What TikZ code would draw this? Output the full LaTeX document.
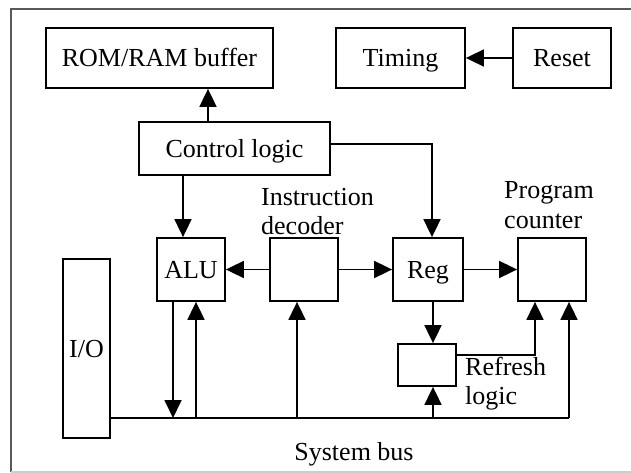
\documentclass[tikz,border=0pt]{standalone}
\usepackage{fontspec}
\setmainfont{Liberation Serif}
\usetikzlibrary{arrows.meta,calc}
\begin{document}
\begin{tikzpicture}[x=1pt,y=-1pt,
  box/.style={draw=black,line width=1.8pt,inner sep=0pt,text height=18pt,text depth=0pt,font=\fontsize{26}{30}\selectfont},
  lbl/.style={inner sep=0pt,font=\fontsize{26}{30}\selectfont},
  arr/.style={line width=1.8pt,-{Triangle[length=18pt,width=17pt]}},
  ln/.style={line width=1.8pt}]
\useasboundingbox (0,0) rectangle (631,473);
% frame
\draw[line width=2pt,color=black!65] (11,472) -- (11,9) -- (640,9);
\draw[line width=1.5pt,color=black!20] (11,472) -- (640,472);
% boxes
\node[box,minimum width=227pt,minimum height=60pt] (rom) at (159.5,58) {ROM/RAM buffer};
\node[box,minimum width=129pt,minimum height=60pt] (tim) at (400.5,58) {Timing};
\node[box,minimum width=98pt,minimum height=60pt] (rst) at (562,58) {Reset};
\node[box,minimum width=191pt,minimum height=53pt] (ctl) at (234.5,148.5) {Control logic};
\node[box,minimum width=68pt,minimum height=63pt] (alu) at (191,269.5) {ALU};
\node[box,minimum width=68pt,minimum height=63pt] (dec) at (304,269.5) {};
\node[box,minimum width=70pt,minimum height=63pt] (reg) at (428,269.5) {Reg};
\node[box,minimum width=68pt,minimum height=63pt] (pc) at (552,269.5) {};
\node[box,minimum width=58pt,minimum height=42pt] (ref) at (427,365) {};
\node[box,minimum width=47pt,minimum height=179pt] (io) at (86.5,348.5) {I/O};
% labels
\node[lbl,anchor=base west] (l1) at (261,205) {Instruction};
\node[lbl,anchor=base west] (l2) at (261,234) {decoder};
\node[lbl,anchor=base west] (l3) at (504,198) {Program};
\node[lbl,anchor=base west] (l4) at (504,228) {counter};
\node[lbl,anchor=base west] (l5) at (465,375) {Refresh};
\node[lbl,anchor=base west] (l6) at (465,404) {logic};
\node[lbl,anchor=base] (l7) at (354,460) {System bus};
% helper coordinates
\coordinate (x208) at (208,0);
\coordinate (x183) at (183,0);
\coordinate (x432) at (432,0);
\coordinate (x173) at (173,0);
\coordinate (x196) at (196,0);
\coordinate (x297) at (297,0);
\coordinate (x433) at (433,0);
\coordinate (x535) at (535,0);
\coordinate (x569) at (569,0);
\coordinate (y144) at (0,144);
\coordinate (y355) at (0,355);
\coordinate (bus) at (0,418);
% connectors
\draw[arr] (rst.west) -- (tim.east);
\draw[arr] (ctl.north -| x208) -- (rom.south -| x208);
\draw[arr] (ctl.south -| x183) -- (alu.north -| x183);
\draw[arr] (ctl.east |- y144) -| (reg.north -| x432);
\draw[arr] (dec.west) -- (alu.east);
\draw[arr] (dec.east) -- (reg.west);
\draw[arr] (reg.east) -- (pc.west);
\draw[arr] (reg.south -| x433) -- (ref.north -| x433);
\draw[arr] (ref.east |- y355) -| (pc.south -| x535);
\draw[ln] (io.east |- bus) -- (x569 |- bus);
\draw[arr] (x569 |- bus) -- (pc.south -| x569);
\draw[arr] (alu.south -| x173) -- (x173 |- bus);
\draw[arr] (x196 |- bus) -- (alu.south -| x196);
\draw[arr] (x297 |- bus) -- (dec.south -| x297);
\draw[arr] (x433 |- bus) -- (ref.south -| x433);
\end{tikzpicture}
\end{document}
